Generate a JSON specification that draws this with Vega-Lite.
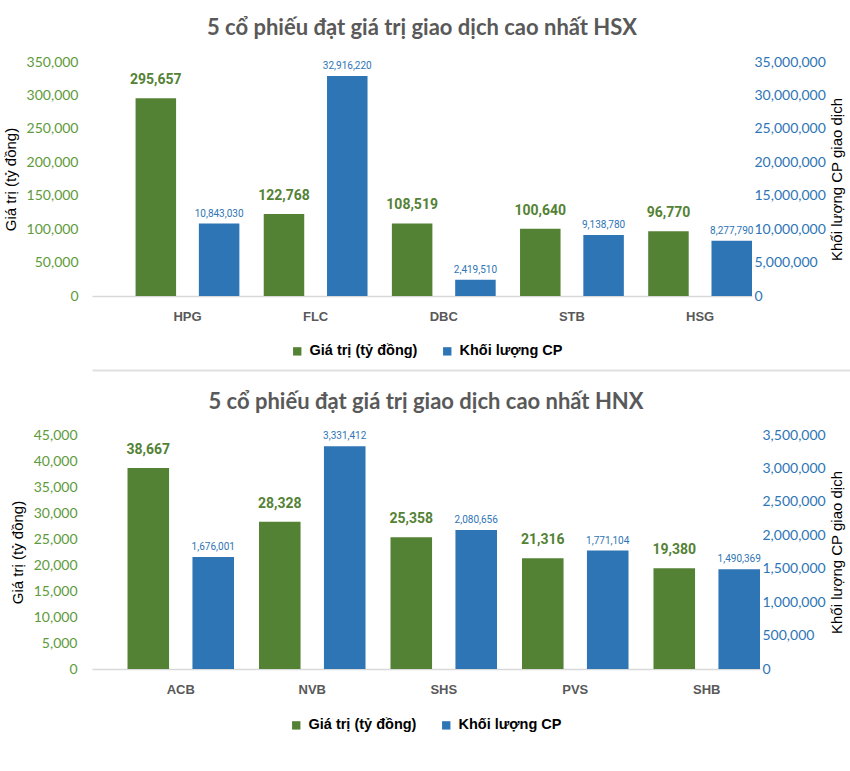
{
  "$schema": "https://vega.github.io/schema/vega-lite/v6.json",
  "background": "white",
  "padding": {"left": 3, "top": 17, "right": 0, "bottom": 0},
  "datasets": {
    "hsx": [
      {"ma": "HPG", "loai": "Giá trị (tỷ đồng)", "v": 295657},
      {"ma": "HPG", "loai": "Khối lượng CP", "v": 10843030},
      {"ma": "FLC", "loai": "Giá trị (tỷ đồng)", "v": 122768},
      {"ma": "FLC", "loai": "Khối lượng CP", "v": 32916220},
      {"ma": "DBC", "loai": "Giá trị (tỷ đồng)", "v": 108519},
      {"ma": "DBC", "loai": "Khối lượng CP", "v": 2419510},
      {"ma": "STB", "loai": "Giá trị (tỷ đồng)", "v": 100640},
      {"ma": "STB", "loai": "Khối lượng CP", "v": 9138780},
      {"ma": "HSG", "loai": "Giá trị (tỷ đồng)", "v": 96770},
      {"ma": "HSG", "loai": "Khối lượng CP", "v": 8277790}
    ],
    "hnx": [
      {"ma": "ACB", "loai": "Giá trị (tỷ đồng)", "v": 38667},
      {"ma": "ACB", "loai": "Khối lượng CP", "v": 1676001},
      {"ma": "NVB", "loai": "Giá trị (tỷ đồng)", "v": 28328},
      {"ma": "NVB", "loai": "Khối lượng CP", "v": 3331412},
      {"ma": "SHS", "loai": "Giá trị (tỷ đồng)", "v": 25358},
      {"ma": "SHS", "loai": "Khối lượng CP", "v": 2080656},
      {"ma": "PVS", "loai": "Giá trị (tỷ đồng)", "v": 21316},
      {"ma": "PVS", "loai": "Khối lượng CP", "v": 1771104},
      {"ma": "SHB", "loai": "Giá trị (tỷ đồng)", "v": 19380},
      {"ma": "SHB", "loai": "Khối lượng CP", "v": 1490369}
    ]
  },
  "config": {
    "view": {"stroke": null},
    "title": {"font": "Lato", "fontSize": 22, "fontWeight": "bold", "color": "#595959", "offset": 15},
    "axis": {"grid": false, "ticks": false, "domain": false, "labelFont": "Lato", "labelFontSize": 14, "titleFont": "Liberation Sans", "titleFontSize": 15, "titleFontWeight": "normal", "titleColor": "#000000"},
    "axisX": {"domain": true, "domainColor": "#D9D9D9", "domainWidth": 1.5, "labelFont": "Liberation Sans", "labelFontWeight": "bold", "labelFontSize": 13, "labelColor": "#595959", "labelAngle": 0, "labelPadding": 14},
    "legend": {"orient": "none", "direction": "horizontal", "title": null, "symbolType": "square", "symbolSize": 70, "symbolStrokeWidth": 0, "labelFont": "Liberation Sans", "labelFontWeight": "bold", "labelFontSize": 14.5, "labelColor": "#000000", "labelOffset": 5, "columnPadding": 22},
    "text": {"font": "Roboto"}
  },
  "columns": 1,
  "align": "none",
  "bounds": "full",
  "spacing": {"row": 11, "column": 0},
  "resolve": {
    "scale": {"x": "independent", "y": "independent", "color": "independent", "xOffset": "independent"},
    "legend": {"color": "independent"}
  },
  "concat": [
    {
      "title": "5 cổ phiếu đạt giá trị giao dịch cao nhất HSX",
      "width": 660,
      "height": 234,
      "data": {"name": "hsx"},
      "encoding": {
        "x": {"field": "ma", "type": "nominal", "sort": null, "title": null, "scale": {"paddingInner": 0.19, "paddingOuter": 0.17, "align": 1}},
        "xOffset": {"field": "loai", "type": "nominal", "scale": {"domain": ["Giá trị (tỷ đồng)", "Khối lượng CP"], "paddingInner": 0.36, "paddingOuter": 0}}
      },
      "layer": [
        {
          "transform": [{"filter": "datum.loai == 'Giá trị (tỷ đồng)'"}],
          "encoding": {
            "y": {"field": "v", "type": "quantitative", "scale": {"domain": [0, 350000]}, "axis": {"orient": "left", "title": "Giá trị (tỷ đồng)", "format": ",.0f", "values": [0, 50000, 100000, 150000, 200000, 250000, 300000, 350000], "labelColor": "#5E9A3C", "labelPadding": 14, "titlePadding": 8}}
          },
          "layer": [
            {
              "mark": {"type": "bar"},
              "encoding": {
                "color": {"field": "loai", "type": "nominal", "scale": {"domain": ["Giá trị (tỷ đồng)", "Khối lượng CP"], "range": ["#548235", "#2E75B6"]}, "legend": {"legendX": 198, "legendY": 282}}
              }
            },
            {
              "mark": {"type": "text", "dy": -11, "baseline": "bottom", "fontWeight": "bold", "fontSize": 14, "color": "#548235"},
              "encoding": {"text": {"field": "v", "type": "quantitative", "format": ",.0f"}}
            }
          ]
        },
        {
          "transform": [{"filter": "datum.loai == 'Khối lượng CP'"}],
          "encoding": {
            "y": {"field": "v", "type": "quantitative", "scale": {"domain": [0, 35000000]}, "axis": {"orient": "right", "title": "Khối lượng CP giao dịch", "titleAngle": 270, "format": ",.0f", "values": [0, 5000000, 10000000, 15000000, 20000000, 25000000, 30000000, 35000000], "labelColor": "#2E75B6", "labelPadding": 2, "titlePadding": 19}}
          },
          "layer": [
            {
              "mark": {"type": "bar"},
              "encoding": {"color": {"field": "loai", "type": "nominal"}}
            },
            {
              "mark": {"type": "text", "dy": -5, "baseline": "bottom", "fontSize": 10, "color": "#2E75B6"},
              "encoding": {"text": {"field": "v", "type": "quantitative", "format": ",.0f"}}
            }
          ]
        }
      ],
      "resolve": {"scale": {"y": "independent"}}
    },
    {
      "width": 847,
      "height": 1,
      "data": {"values": [{"a": 1}]},
      "mark": {"type": "rule", "opacity": 0},
      "encoding": {
        "x": {"datum": 0.5, "type": "quantitative", "scale": {"domain": [0, 1]}, "axis": {"orient": "bottom", "domain": true, "domainColor": "#E0E0E0", "domainWidth": 2, "labels": false, "ticks": false, "title": " ", "titleFontSize": 8, "titlePadding": 2}}
      }
    },
    {
      "title": {"text": "5 cổ phiếu đạt giá trị giao dịch cao nhất HNX", "offset": 14},
      "width": 668,
      "height": 234,
      "data": {"name": "hnx"},
      "encoding": {
        "x": {"field": "ma", "type": "nominal", "sort": null, "title": null, "scale": {"paddingInner": 0.19, "paddingOuter": 0.135, "align": 1}},
        "xOffset": {"field": "loai", "type": "nominal", "scale": {"domain": ["Giá trị (tỷ đồng)", "Khối lượng CP"], "paddingInner": 0.36, "paddingOuter": 0}}
      },
      "layer": [
        {
          "transform": [{"filter": "datum.loai == 'Giá trị (tỷ đồng)'"}],
          "encoding": {
            "y": {"field": "v", "type": "quantitative", "scale": {"domain": [0, 45000]}, "axis": {"orient": "left", "title": "Giá trị (tỷ đồng)", "format": ",.0f", "values": [0, 5000, 10000, 15000, 20000, 25000, 30000, 35000, 40000, 45000], "labelColor": "#5E9A3C", "labelPadding": 15, "titlePadding": 8}}
          },
          "layer": [
            {
              "mark": {"type": "bar"},
              "encoding": {
                "color": {"field": "loai", "type": "nominal", "scale": {"domain": ["Giá trị (tỷ đồng)", "Khối lượng CP"], "range": ["#548235", "#2E75B6"]}, "legend": {"legendX": 197, "legendY": 283}}
              }
            },
            {
              "mark": {"type": "text", "dy": -11, "baseline": "bottom", "fontWeight": "bold", "fontSize": 14, "color": "#548235"},
              "encoding": {"text": {"field": "v", "type": "quantitative", "format": ",.0f"}}
            }
          ]
        },
        {
          "transform": [{"filter": "datum.loai == 'Khối lượng CP'"}],
          "encoding": {
            "y": {"field": "v", "type": "quantitative", "scale": {"domain": [0, 3500000]}, "axis": {"orient": "right", "title": "Khối lượng CP giao dịch", "titleAngle": 270, "format": ",.0f", "values": [0, 500000, 1000000, 1500000, 2000000, 2500000, 3000000, 3500000], "labelColor": "#2E75B6", "labelPadding": 2, "titlePadding": 19}}
          },
          "layer": [
            {
              "mark": {"type": "bar"},
              "encoding": {"color": {"field": "loai", "type": "nominal"}}
            },
            {
              "mark": {"type": "text", "dy": -5, "baseline": "bottom", "fontSize": 10, "color": "#2E75B6"},
              "encoding": {"text": {"field": "v", "type": "quantitative", "format": ",.0f"}}
            }
          ]
        }
      ],
      "resolve": {"scale": {"y": "independent"}}
    }
  ]
}
